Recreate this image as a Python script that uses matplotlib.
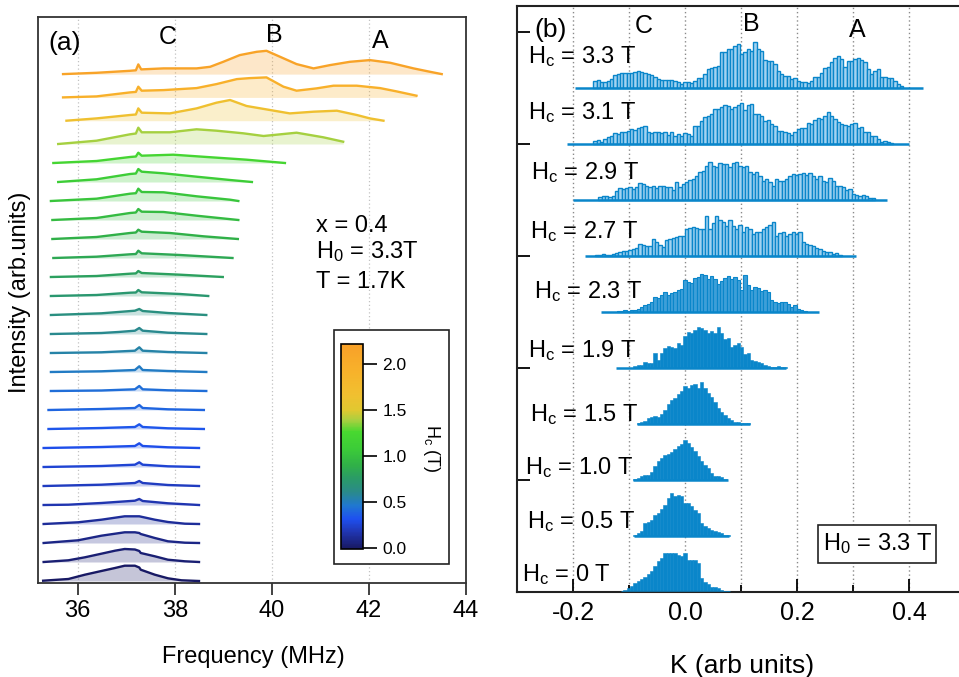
import numpy as np
import matplotlib
matplotlib.use('Agg')
import matplotlib.pyplot as plt
from matplotlib.colors import LinearSegmentedColormap, Normalize
from matplotlib.cm import ScalarMappable
from matplotlib.patches import Rectangle
from matplotlib.ticker import FormatStrFormatter

plt.rcParams['font.family'] = ['Liberation Sans', 'DejaVu Sans']
plt.rcParams['mathtext.default'] = 'regular'
plt.rcParams['axes.unicode_minus'] = False

# ---------------- Panel (a): NMR spectra (frequency MHz, intensity arb.) ----------------
spec_00 = [(35.29,0.3),(35.81,2),(36.15,6.3),(36.49,10),(36.77,13),(36.97,15.3),(37.18,15.3),(37.27,13.5),(37.30,11.3),(37.59,6.3),(37.86,2.7),(38.14,0.7),(38.5,0)]
spec_01 = [(35.30,0),(35.81,1.7),(36.15,4.7),(36.49,8.3),(36.77,11.3),(36.97,13),(37.18,12.5),(37.27,11),(37.30,9),(37.59,5.7),(37.86,2.3),(38.21,0.7),(38.5,0)]
spec_02 = [(35.30,0),(36.01,2.7),(36.49,7.3),(36.97,10.7),(37.18,10.7),(37.27,10),(37.30,9),(37.59,5),(37.86,1.7),(38.21,0.3),(38.5,0)]
spec_03 = [(35.30,0),(36.01,1.7),(36.49,4.3),(36.97,7.7),(37.27,7.7),(37.59,4.3),(37.86,2),(38.21,0.3),(38.5,0)]
spec_04 = [(35.30,0),(35.81,0.3),(36.49,2),(37.18,4.3),(37.27,6),(37.34,4),(37.86,1.7),(38.5,0)]
spec_05 = [(35.30,0),(36.49,1.3),(37.18,3),(37.27,5),(37.34,3),(37.86,1),(38.5,0)]
spec_06 = [(35.30,0),(36.49,1),(37.18,2.3),(37.27,4.7),(37.34,2.3),(37.86,0.7),(38.5,0)]
spec_07 = [(35.30,0),(36.49,1),(37.18,2),(37.27,4.7),(37.34,2),(37.86,0.7),(38.5,0)]
spec_08 = [(35.40,0),(36.49,1),(37.18,2),(37.27,4.7),(37.34,2),(37.86,0.7),(38.6,0)]
spec_09 = [(35.40,0),(36.49,1),(37.18,2),(37.27,5),(37.34,2),(37.86,0.7),(38.6,0)]
spec_10 = [(35.45,0),(36.49,0.5),(37.18,1.7),(37.27,5),(37.34,1.7),(37.86,0.7),(38.65,0)]
spec_11 = [(35.45,0),(36.49,0.7),(37.18,2),(37.27,5.7),(37.34,2),(37.86,1),(38.65,0)]
spec_12 = [(35.45,0),(36.49,0.7),(37.18,2.3),(37.27,5.7),(37.34,2.3),(37.86,1),(38.65,0)]
spec_13 = [(35.45,0),(36.49,1),(36.84,2),(37.18,3.3),(37.27,6),(37.34,3.3),(37.86,1.3),(38.65,0)]
spec_14 = [(35.45,0),(36.49,1.7),(36.84,3),(37.18,4.3),(37.27,6),(37.34,4),(37.86,2),(38.65,0)]
spec_15 = [(35.45,0),(36.39,1),(37.08,3.3),(37.2,3.5),(37.25,6),(37.32,3.7),(38.11,2),(38.69,0)]
spec_16 = [(35.45,0),(36.39,1),(37.08,3.3),(37.2,3.6),(37.25,6),(37.32,4),(38.11,2.3),(38.99,0)]
spec_17 = [(35.5,0),(36.39,1.3),(37.08,3.7),(37.2,4),(37.25,7.3),(37.32,4.7),(38.11,3),(39.19,0)]
spec_18 = [(35.48,0),(36.39,2),(37.08,6),(37.2,6.5),(37.25,9.3),(37.32,7.3),(37.9,6),(38.59,2.7),(39.3,0)]
spec_19 = [(35.48,0),(36.39,2),(37.08,7),(37.2,7.5),(37.25,11),(37.32,8.3),(37.77,8),(38.45,4.3),(39.31,0)]
spec_20 = [(35.45,0),(36.39,2.3),(37.08,7.3),(37.2,7.8),(37.25,12.3),(37.32,9),(37.77,8.7),(38.45,4.7),(39.14,1.3),(39.31,0)]
spec_21 = [(35.6,0),(36.39,2.7),(37.08,8),(37.2,8.5),(37.25,13),(37.32,10.3),(37.77,8.7),(38.45,5.3),(39.14,2),(39.59,0)]
spec_22 = [(35.5,0),(36.39,2),(37.08,6),(37.2,6.5),(37.25,10.3),(37.32,7.3),(37.97,8.3),(38.66,6),(39.48,3.3),(40.27,0)]
spec_23 = [(35.6,0),(36.39,3.3),(37.08,9.7),(37.2,10.5),(37.25,16.3),(37.32,11.7),(37.9,11.7),(38.45,14.7),(38.86,13.3),(39.41,10.7),(39.83,8),(40.51,11.3),(41.06,6.7),(41.47,2.3)]
spec_24 = [(35.77,0),(36.39,2.3),(37.08,5.7),(37.2,6.2),(37.25,12.3),(37.32,8),(37.9,7.3),(38.45,12.3),(38.86,18),(39.14,20.7),(39.48,14.7),(39.89,11.3),(40.37,7.3),(40.86,9),(41.34,10),(41.75,5.7),(42.02,2.3),(42.3,0)]
spec_25 = [(35.70,0),(36.39,1),(37.08,5),(37.2,5.5),(37.25,10.7),(37.32,6.7),(37.77,7.3),(38.45,9.3),(38.86,13.3),(39.28,18.3),(39.55,19.3),(39.89,20),(40.24,10.7),(40.51,6.7),(40.92,9),(41.27,11.7),(41.75,11.7),(42.23,9.3),(42.57,6),(42.98,1.7)]
spec_26 = [(35.70,0),(36.39,1.3),(37.08,3.3),(37.2,3.8),(37.25,9.7),(37.31,4.7),(37.77,5.7),(38.45,5.7),(38.73,7.3),(39.0,12.3),(39.34,19),(39.69,22.3),(39.89,23.3),(40.17,17.3),(40.51,10),(40.86,5.7),(41.2,9),(41.61,12.3),(42.02,14),(42.44,11.3),(42.92,5.7),(43.26,2.3),(43.5,0)]

spectra = [spec_00, spec_01, spec_02, spec_03, spec_04, spec_05, spec_06, spec_07, spec_08,
           spec_09, spec_10, spec_11, spec_12, spec_13, spec_14, spec_15, spec_16, spec_17,
           spec_18, spec_19, spec_20, spec_21, spec_22, spec_23, spec_24, spec_25, spec_26]

# Hc (T) for each spectrum (sets its colour)
spec_hc = [0.0, 0.03, 0.075, 0.12, 0.17, 0.21, 0.25, 0.30, 0.34, 0.39, 0.43, 0.49, 0.545,
           0.60, 0.655, 0.72, 0.79, 0.845, 0.90, 0.97, 1.035, 1.10, 1.21, 1.39, 1.66, 1.95, 2.175]

cbar_ticks = [0.0, 0.5, 1.0, 1.5, 2.0]
freq_ticks = [36, 38, 40, 42, 44]

# ---------------- Panel (b): histograms of K ----------------
row_hc = [0, 0.5, 1.0, 1.5, 1.9, 2.3, 2.7, 2.9, 3.1, 3.3]
row_labels = ['H$_c$ = 0 T', 'H$_c$ = 0.5 T', 'H$_c$ = 1.0 T', 'H$_c$ = 1.5 T', 'H$_c$ = 1.9 T',
              'H$_c$ = 2.3 T', 'H$_c$ = 2.7 T', 'H$_c$ = 2.9 T', 'H$_c$ = 3.1 T', 'H$_c$ = 3.3 T']
# histogram bin range (K) and full range of the zero line
bin_lo = [-0.1167, -0.0929, -0.0929, -0.0869, -0.0929, -0.1226, -0.1613, -0.1554, -0.1643, -0.1643]
bin_hi = [0.0798, 0.0798, 0.0738, 0.1155, 0.1810, 0.2167, 0.2792, 0.3387, 0.3714, 0.3893]
line_lo = [-0.115, -0.092, -0.093, -0.086, -0.124, -0.151, -0.179, -0.200, -0.211, -0.197]
line_hi = [0.080, 0.078, 0.076, 0.116, 0.179, 0.238, 0.304, 0.361, 0.399, 0.424]

hist_00 = [1, 1.7, 3.5, 5.7, 8.3, 11, 13, 15, 17.7, 20.5, 26, 31, 33.7, 39, 38.3, 38.3, 38.3, 37, 36,
           38.3, 31.7, 31.7, 31.7, 28.3, 13.3, 10, 7.7, 5, 5, 3.3, 1.3, 0.7, 0.3]
hist_05 = [0.7, 3, 5, 12.7, 13.3, 16, 21, 23, 26.7, 31, 37.7, 42.7, 39.3, 41, 39.3, 32.7, 32.7, 30,
           26, 22.7, 12.7, 9.3, 7.7, 6, 4.3, 3.3, 2.7, 1, 0.3]
hist_10 = [1, 2, 3.3, 4.3, 4.5, 8, 14, 18.7, 22, 24.5, 25.3, 28, 31, 33.3, 36, 40, 37, 33, 29, 24,
           19, 15, 11.7, 7, 4, 3.3, 2.3, 1]
hist_15 = [0.5, 1.3, 3, 5.5, 6.7, 7.3, 7, 10, 13.7, 20, 23.3, 26, 29.3, 33, 37.3, 36, 38.7, 39.7, 36,
           41.3, 36, 31, 27, 22, 16, 11.3, 9, 6, 3.7, 2, 1.3, 0.7, 0.3, 0.3]
hist_19 = [1.7, 2.3, 2.7, 6, 5, 4.3, 15, 7.7, 14.3, 19.3, 21.7, 21, 19.3, 25, 22.7, 31.7, 36, 34.3,
           37.7, 40.3, 39.3, 37.7, 34.3, 37, 34.3, 40.3, 35, 28.3, 29.3, 21, 22.7, 24.3, 21, 13.7,
           14.3, 7.7, 7, 6, 4.3, 2.7, 1.7, 1, 0.7, 1.7, 0.7, 0.3]
hist_23 = [1, 1, 1.7, 1, 1.7, 1.7, 2.3, 5, 6.7, 7.7, 10, 15, 14, 16.7, 20, 16.7, 18.3, 20, 21.7, 22.3,
           31.7, 30, 28.3, 33.3, 35, 37.7, 36.7, 32.3, 35.7, 32.3, 27.7, 31, 33.3, 35.7, 32.3, 34.3,
           31.7, 21.7, 36.7, 26.7, 21.7, 25, 23.3, 21, 21.7, 20, 11.7, 10, 9, 10, 10, 7.7, 5, 6.7,
           2.3, 1.7, 1]
hist_27 = [0.7, 1, 1.3, 0.7, 1, 1.7, 2.7, 4, 4.3, 5, 6, 6.7, 7.3, 11.7, 10.7, 10, 10, 16.7, 13.3,
           10.7, 8.3, 16, 16.7, 17.3, 18.3, 19.3, 19.3, 26.7, 27.3, 28.3, 27.3, 26.7, 26.7, 39.3,
           26.7, 32.7, 39.3, 36, 33.3, 30, 36, 29.3, 26.7, 30.7, 23.3, 28.3, 26.7, 21.7, 23.3, 24,
           26.7, 28.3, 30.7, 33.3, 20, 22.7, 23.3, 19.3, 21.7, 24, 21.7, 23.3, 14, 11.7, 10.7, 9.3,
           7.3, 6.7, 5, 3.3, 4, 2, 2.7, 0.7]
hist_29 = [2.3, 3.3, 4, 3, 4, 9, 11.3, 10.7, 11.3, 12.3, 10.7, 12.3, 16.7, 15.7, 14, 12.3, 13.3, 11.3,
           13.3, 13.3, 12.3, 12.3, 10, 18, 12.3, 15.7, 17.3, 20, 20.7, 24, 27.3, 29, 34, 38, 34,
           32.3, 36.7, 35.7, 35.7, 32.3, 36.7, 37.3, 34, 32.3, 33.3, 27.3, 25.7, 27.3, 24, 19, 20.7,
           18, 13.3, 20.7, 19, 19, 20.7, 24, 25.7, 24.7, 25.7, 26.7, 24.7, 26.7, 24, 20.7, 24, 19,
           17.3, 21.3, 19, 13.3, 14, 12.3, 10, 10.7, 5.7, 4.7, 4, 4.7, 4, 1.3, 1.7]
hist_31 = [3, 4, 2, 4.7, 6.3, 7.3, 10.7, 9.7, 11.3, 12, 13, 14.7, 14, 15.3, 16.3, 18, 12, 10.7, 11.3,
           12, 10.7, 11.3, 8.7, 11.3, 8, 9.7, 7.3, 10.7, 9.7, 8, 18, 17.3, 23, 26.3, 27.3, 29.7,
           34.7, 34.7, 36.3, 38.7, 37.3, 34.7, 36.3, 38.7, 40.7, 34, 38.7, 39.7, 29.7, 29.7, 27.3,
           23, 24, 19.7, 17.3, 13, 13, 12, 10.7, 8.7, 12, 14.7, 15.3, 15.3, 20.7, 19.7, 24, 25.3,
           24.7, 27.3, 31.3, 27.3, 24.7, 22, 19.7, 18.7, 18, 19.7, 20.7, 15.3, 16.3, 12, 11.3, 8,
           7.3, 4.7, 2, 3, 2, 0.7]
hist_33 = [7.0, 7.7, 6.0, 5.3, 7.0, 8.7, 12.7, 14, 15, 15.2, 14.7, 15, 16, 16.5, 15.3, 14.5, 13.7,
           12.7, 11, 8.5, 7.3, 7.3, 7.3, 7.3, 6.5, 5.3, 4.2, 5.5, 6, 4.7, 6.5, 9.7, 10.0, 13.7, 18.7,
           19.7, 20.3, 22.0, 35.3, 36.0, 38.7, 38.7, 42.0, 43.7, 33.7, 35.3, 38.7, 37.0, 45.3, 38.7,
           37.0, 28.0, 27.0, 27.0, 23.7, 17.0, 13.7, 11.3, 12.0, 8.7, 9.3, 7.0, 5.3, 6.0, 4.7, 7.0,
           10.3, 10.3, 14.7, 19.3, 20.3, 25.3, 29.3, 31.3, 28.7, 20.3, 27.0, 27.0, 28.7, 29.3, 28.0,
           26.0, 18.7, 13.7, 17.0, 18.7, 10.3, 10.3, 9.7, 9.3, 7.0, 3.7, 1.3]
hists = [hist_00, hist_05, hist_10, hist_15, hist_19, hist_23, hist_27, hist_29, hist_31, hist_33]
k_ticks = [-0.2, 0.0, 0.2, 0.4]
k_minor = [-0.1, 0.1, 0.3]

# ---------------- figure ----------------
W, H = 959, 677
fig = plt.figure(figsize=(W / 100, H / 100), dpi=100)


def fx(px):
    return px / W


def fy(py):
    return 1 - py / H


cmap = LinearSegmentedColormap.from_list('hc', [
    (0.0, '#181860'), (0.082, '#2035b0'), (0.147, '#1e50f0'), (0.212, '#2078d0'),
    (0.278, '#2a8a8a'), (0.343, '#2a9a68'), (0.408, '#30b048'), (0.49, '#3ccc38'),
    (0.572, '#48d830'), (0.629, '#a8d040'), (0.678, '#e0c830'), (0.752, '#f0c030'),
    (0.882, '#f8b02a'), (1.0, '#f8a028')])
norm = Normalize(vmin=-0.015, vmax=2.22)

# ----- panel (a)
ax1 = fig.add_axes([fx(38.3), fy(582.7), fx(466) - fx(38.3), (582.7 - 17.3) / H])
ax1.set_xlim(35.19, 44.0)
ax1.set_ylim(0, 565.4)
for v in freq_ticks[:-1]:
    ax1.axvline(v, color='#c2c2c2', ls=(0, (1, 2)), lw=0.9, zorder=0)

offsets = 1.7 + np.concatenate([[0], np.cumsum([19.0] * 23 + [23.3] * 3)])
for i, spec in enumerate(spectra):
    f = np.array([p[0] for p in spec])
    h = np.array([p[1] for p in spec])
    c = cmap(norm(spec_hc[i]))
    off = offsets[i]
    ax1.fill_between(f, off, off + h, color=c, alpha=0.25, lw=0, zorder=2)
    ax1.plot(f, off + h, color=c, lw=1.7, zorder=3, solid_joinstyle='round')

ax1.set_xticks(freq_ticks)
ax1.set_xticklabels([str(t) for t in freq_ticks])
ax1.set_yticks([])
ax1.tick_params(axis='x', direction='out', length=8.5, width=1.3, labelsize=17, pad=4, color='#333333')
for s in ax1.spines.values():
    s.set_linewidth(1.3)
    s.set_color('#333333')

fig.text(fx(20), fy(292), 'Intensity (arb.units)', rotation=90, ha='center', va='center', fontsize=17)
fig.text(fx(253), fy(662.7), 'Frequency (MHz)', ha='center', va='baseline', fontsize=17)
fig.text(fx(48), fy(50), '(a)', ha='left', va='baseline', fontsize=19)
fig.text(fx(167.5), fy(44), 'C', ha='center', va='baseline', fontsize=18)
fig.text(fx(274), fy(42), 'B', ha='center', va='baseline', fontsize=18)
fig.text(fx(380), fy(48), 'A', ha='center', va='baseline', fontsize=18)
fig.text(fx(316), fy(231.7), 'x = 0.4', ha='left', va='baseline', fontsize=17)
fig.text(fx(316), fy(258.3), 'H$_0$ = 3.3T', ha='left', va='baseline', fontsize=17)
fig.text(fx(316), fy(288.3), 'T = 1.7K', ha='left', va='baseline', fontsize=17)

# colorbar box + colorbar
box = Rectangle((fx(333.7), fy(564)), fx(449.3) - fx(333.7), (564 - 330) / H,
                transform=fig.transFigure, facecolor='white', edgecolor='#222222', lw=1.2, zorder=2)
fig.add_artist(box)
cax = fig.add_axes([fx(341.3), fy(549.3), fx(362.7) - fx(341.3), (549.3 - 344) / H])
cax.set_zorder(3)
cb = fig.colorbar(ScalarMappable(norm=norm, cmap=cmap), cax=cax, ticks=cbar_ticks)
cb.outline.set_linewidth(1.2)
cax.yaxis.set_major_formatter(FormatStrFormatter('%.1f'))
cax.tick_params(direction='out', length=10, width=1.2, labelsize=12.5, pad=4)
fig.text(fx(431.7), fy(448), 'H$_c$ (T)', rotation=-90, ha='center', va='center', fontsize=13, zorder=4)

# ----- panel (b)
ax2 = fig.add_axes([fx(517.3), fy(591.7), (965.3 - 517.3) / W, (591.7 - 5.7) / H])
ax2.set_xlim(-0.3, 0.5)
ax2.set_ylim(0, 586)
row_step = 56.0
for v in k_ticks + k_minor:
    ax2.axvline(v, color='#8a8a8a', ls=(0, (1, 2)), lw=1.0, zorder=0)

edge_col = '#0a86ca'
for k, hvals in enumerate(hists):
    hvals = np.array(hvals, dtype=float)
    n = len(hvals)
    edges = np.linspace(bin_lo[k], bin_hi[k], n + 1)
    centers = 0.5 * (edges[:-1] + edges[1:])
    w = (bin_hi[k] - bin_lo[k]) / n
    base = row_step * k
    if k <= 4:
        face, lw = edge_col, 0.4
    elif k == 5:
        face, lw = '#3d9fd8', 0.8
    else:
        face, lw = '#a2d3f1', 1.0
    ax2.bar(centers, hvals, width=w, bottom=base, color=face, edgecolor=edge_col,
            linewidth=lw, zorder=2)
    ax2.plot([line_lo[k], line_hi[k]], [base, base], color=edge_col, lw=1.8,
             solid_capstyle='butt', zorder=3)

ax2.set_xticks(k_ticks)
ax2.set_xticks(k_minor, minor=True)
ax2.xaxis.set_major_formatter(FormatStrFormatter('%.1f'))
ax2.set_yticks([row_step * j for j in range(0, 11, 2)])
ax2.set_yticklabels([])
ax2.tick_params(axis='x', which='major', direction='in', length=9.5, width=1.3, labelsize=18, pad=7)
ax2.tick_params(axis='x', which='minor', direction='in', length=5, width=1.3)
ax2.tick_params(axis='y', direction='in', length=9.5, width=1.3)
for name, s in ax2.spines.items():
    s.set_linewidth(1.5)
    s.set_color('#222222')
ax2.spines['right'].set_visible(False)

fig.text(fx(741.7), fy(673.3), 'K (arb units)', ha='center', va='baseline', fontsize=19)
fig.text(fx(534), fy(37), '(b)', ha='left', va='baseline', fontsize=19)
fig.text(fx(644), fy(33), 'C', ha='center', va='baseline', fontsize=18)
fig.text(fx(751), fy(30.7), 'B', ha='center', va='baseline', fontsize=18)
fig.text(fx(857), fy(36.7), 'A', ha='center', va='baseline', fontsize=18)

label_pos = [(521.7, 580.7), (526.7, 527.7), (525, 474), (530, 420.7), (528.3, 356.7),
             (534.3, 297.7), (530, 238.3), (531, 179), (528.3, 119.3), (528.3, 62.7)]
for lab, (px, py) in zip(row_labels, label_pos):
    fig.text(fx(px), fy(py), lab, ha='left', va='baseline', fontsize=17, zorder=5)

box2 = Rectangle((fx(818.3), fy(563.3)), fx(935.7) - fx(818.3), (563.3 - 525) / H,
                 transform=fig.transFigure, facecolor='white', edgecolor='#222222', lw=1.2, zorder=4)
fig.add_artist(box2)
fig.text(fx(823.3), fy(550), 'H$_0$ = 3.3 T', ha='left', va='baseline', fontsize=17, zorder=5)

fig.savefig('out.png', dpi=100)
